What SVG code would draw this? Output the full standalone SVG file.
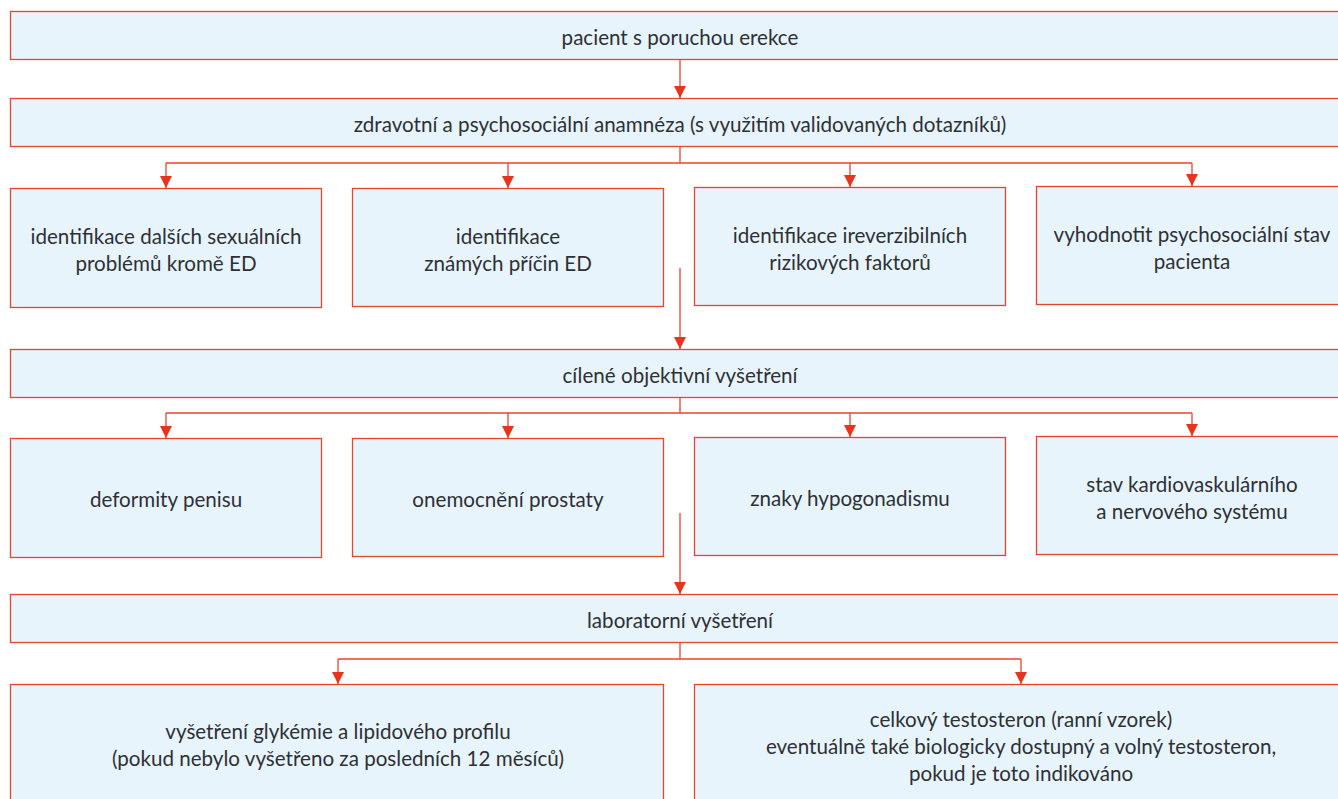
<svg xmlns="http://www.w3.org/2000/svg" width="1338" height="799" viewBox="0 0 1338 799">
<style>
.b{fill:#e8f4fc;stroke:#e8452c;stroke-width:1.3}
.t{font-family:Lato,"Open Sans",sans-serif;font-size:20.6px;fill:#2e3036;text-anchor:middle}
.c{fill:none;stroke:#e8452c;stroke-width:1.3}
</style>
<defs>
<marker id="a" markerWidth="12" markerHeight="12" refX="12" refY="6" orient="auto" markerUnits="userSpaceOnUse" viewBox="0 0 12 12">
<path d="M0,0 L12,6 L0,12 Z" fill="#e8341c"/>
</marker>
</defs>
<g id="connectors">
<path class="c" d="M680,59 V98" marker-end="url(#a)"/>
<path class="c" d="M680,146 V163 M166,163 H1192"/>
<path class="c" d="M166,163 V188" marker-end="url(#a)"/>
<path class="c" d="M508,163 V188" marker-end="url(#a)"/>
<path class="c" d="M850,163 V187" marker-end="url(#a)"/>
<path class="c" d="M1192,163 V186" marker-end="url(#a)"/>
<path class="c" d="M680,268 V349" marker-end="url(#a)"/>
<path class="c" d="M680,397 V413 M166,413 H1192"/>
<path class="c" d="M166,413 V438" marker-end="url(#a)"/>
<path class="c" d="M508,413 V438" marker-end="url(#a)"/>
<path class="c" d="M850,413 V437" marker-end="url(#a)"/>
<path class="c" d="M1192,413 V436" marker-end="url(#a)"/>
<path class="c" d="M680,513 V594" marker-end="url(#a)"/>
<path class="c" d="M680,642 V659 M338,659 H1021"/>
<path class="c" d="M338,659 V684" marker-end="url(#a)"/>
<path class="c" d="M1021,659 V684" marker-end="url(#a)"/>
</g>
<g id="n1"><rect class="b" x="10.5" y="11.5" width="1340" height="48"/><text class="t" x="680" y="45">pacient s poruchou erekce</text></g>
<g id="n2"><rect class="b" x="10.5" y="98.5" width="1340" height="48"/><text class="t" x="680" y="132">zdravotní a psychosociální anamnéza (s využitím validovaných dotazníků)</text></g>
<g id="n3"><rect class="b" x="10.5" y="188.5" width="311" height="119"/><text class="t" x="166" y="244">identifikace dalších sexuálních</text><text class="t" x="166" y="271">problémů kromě ED</text></g>
<g id="n4"><rect class="b" x="352.5" y="188.5" width="311" height="118"/><text class="t" x="508" y="244">identifikace</text><text class="t" x="508" y="271">známých příčin ED</text></g>
<g id="n5"><rect class="b" x="694.5" y="187.5" width="311" height="118"/><text class="t" x="850" y="243">identifikace ireverzibilních</text><text class="t" x="850" y="270">rizikových faktorů</text></g>
<g id="n6"><rect class="b" x="1036.5" y="186.5" width="320" height="118"/><text class="t" x="1192" y="242">vyhodnotit psychosociální stav</text><text class="t" x="1192" y="269">pacienta</text></g>
<g id="n7"><rect class="b" x="10.5" y="349.5" width="1340" height="48"/><text class="t" x="680" y="383">cílené objektivní vyšetření</text></g>
<g id="n8"><rect class="b" x="10.5" y="438.5" width="311" height="119"/><text class="t" x="166" y="507">deformity penisu</text></g>
<g id="n9"><rect class="b" x="352.5" y="438.5" width="311" height="118"/><text class="t" x="508" y="507">onemocnění prostaty</text></g>
<g id="n10"><rect class="b" x="694.5" y="437.5" width="311" height="118"/><text class="t" x="850" y="506">znaky hypogonadismu</text></g>
<g id="n11"><rect class="b" x="1036.5" y="436.5" width="320" height="118"/><text class="t" x="1192" y="492">stav kardiovaskulárního</text><text class="t" x="1192" y="519">a nervového systému</text></g>
<g id="n12"><rect class="b" x="10.5" y="594.5" width="1340" height="48"/><text class="t" x="680" y="628">laboratorní vyšetření</text></g>
<g id="n13"><rect class="b" x="10.5" y="684.5" width="653" height="130"/><text class="t" x="338" y="739">vyšetření glykémie a lipidového profilu</text><text class="t" x="338" y="766">(pokud nebylo vyšetřeno za posledních 12 měsíců)</text></g>
<g id="n14"><rect class="b" x="694.5" y="684.5" width="660" height="130"/><text class="t" x="1021" y="727">celkový testosteron (ranní vzorek)</text><text class="t" x="1021" y="754">eventuálně také biologicky dostupný a volný testosteron,</text><text class="t" x="1021" y="781">pokud je toto indikováno</text></g>
</svg>
